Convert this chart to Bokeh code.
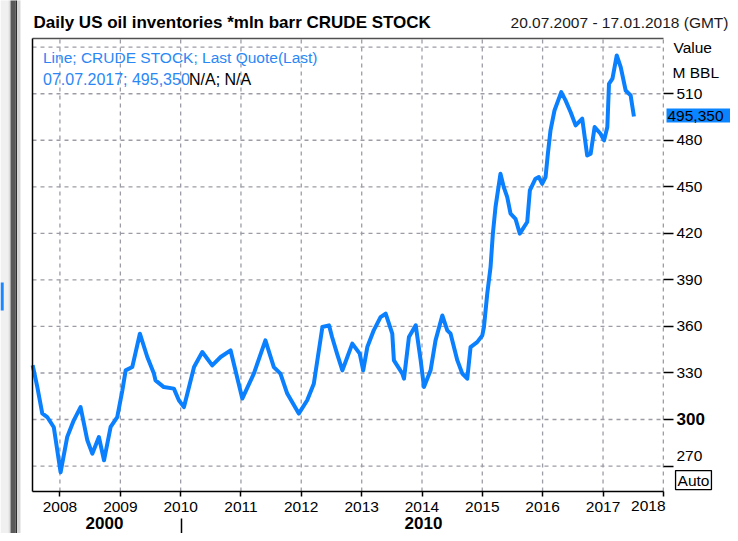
import pandas as pd
from bokeh.plotting import figure
from bokeh.models import (FixedTicker, DatetimeTickFormatter, LinearAxis, Range1d,
                          Label, Arrow, ColumnDataSource)
from bokeh.embed import file_html
from bokeh.resources import INLINE

# ---------------- data ----------------
dates = [
    "2007-07-20", "2007-08-17", "2007-09-16", "2007-10-16", "2007-11-25",
    "2008-01-05", "2008-02-14", "2008-03-25", "2008-05-05", "2008-06-15",
    "2008-07-15", "2008-08-24", "2008-09-24", "2008-11-03", "2008-12-13",
    "2009-01-13", "2009-02-02", "2009-03-14", "2009-04-29", "2009-06-13",
    "2009-07-23", "2009-08-02", "2009-09-21", "2009-11-21", "2009-12-21",
    "2010-01-21", "2010-03-23", "2010-05-12", "2010-07-11", "2010-08-31",
    "2010-10-30", "2011-01-09", "2011-03-20", "2011-05-29", "2011-07-19",
    "2011-08-28", "2011-10-08", "2011-12-17", "2012-02-06", "2012-03-17",
    "2012-05-08", "2012-06-17", "2012-07-06", "2012-08-06", "2012-09-06",
    "2012-10-06", "2012-11-05", "2012-12-20", "2013-01-10", "2013-02-04",
    "2013-03-15", "2013-04-25", "2013-05-26", "2013-07-05", "2013-07-15",
    "2013-09-04", "2013-09-14", "2013-10-14", "2013-11-24", "2013-12-24",
    "2014-01-13", "2014-02-22", "2014-03-24", "2014-05-04", "2014-06-03",
    "2014-06-23", "2014-08-03", "2014-09-02", "2014-10-02", "2014-10-22",
    "2014-12-01", "2015-01-01", "2015-01-11", "2015-01-31", "2015-02-20",
    "2015-03-06", "2015-03-22", "2015-04-21", "2015-05-11", "2015-06-01",
    "2015-06-21", "2015-07-21", "2015-08-16", "2015-09-30", "2015-10-16",
    "2015-11-19", "2015-12-09", "2015-12-30", "2016-01-19", "2016-02-02",
    "2016-02-18", "2016-03-13", "2016-04-23", "2016-05-19", "2016-06-19",
    "2016-07-19", "2016-08-28", "2016-09-27", "2016-10-18", "2016-11-11",
    "2016-12-17", "2017-01-07", "2017-01-27", "2017-02-06", "2017-02-27",
    "2017-03-25", "2017-04-18", "2017-05-18", "2017-06-17", "2017-07-07",
]
values = [
    335.0, 321.0, 304.0, 301.6, 295.0,
    266.0, 288.7, 299.5, 308.0, 286.6,
    278.0, 288.7, 273.7, 295.2, 301.6,
    318.8, 331.7, 333.8, 355.3, 340.3,
    329.6, 325.2, 320.9, 319.9, 312.4,
    308.0, 333.8, 343.5, 334.9, 340.3,
    344.6, 313.5, 329.6, 351.0, 333.8,
    329.6, 316.7, 303.8, 312.4, 323.1,
    359.6, 360.7, 353.0, 342.0, 331.7,
    340.3, 348.9, 342.5, 331.7, 346.7,
    357.5, 366.0, 368.2, 355.3, 338.1,
    329.6, 326.3, 353.2, 360.7, 338.1,
    320.9, 331.7, 351.0, 367.1, 357.5,
    355.3, 338.1, 329.6, 326.3, 346.7,
    349.9, 354.2, 359.6, 381.1, 398.3,
    419.8, 436.9, 458.4, 449.8, 443.4,
    432.7, 429.4, 419.8, 427.3, 447.7,
    455.2, 456.3, 452.0, 456.3, 471.3,
    486.4, 499.2, 511.0, 505.7, 498.1,
    489.6, 493.9, 470.2, 471.3, 488.5,
    484.2, 479.9, 488.5, 516.4, 519.7,
    534.7, 527.1, 512.1, 508.9, 495.35,
]
year_ticks = list(range(2008, 2019))
value_ticks = [270, 300, 330, 360, 390, 420, 450, 480, 510]
grid_values = value_ticks + [540]
title_text = "Daily US oil inventories *mln barr CRUDE STOCK"
range_text = "20.07.2007 - 17.01.2018 (GMT)"
legend_line1 = "Line; CRUDE STOCK; Last Quote(Last)"
legend_line2 = "07.07.2017; 495,350"
legend_na = "N/A; N/A"
last_value_text = "495,350"
axis_unit_1 = "Value"
axis_unit_2 = "M BBL"
decade_labels = ["2000", "2010"]

# ---------------- layout constants (pixels) ----------------
FONT = "Liberation Sans"
BLUE = "#0a80ff"
W, H = 730, 533
FL, FR, FT, FB = 32, 663, 38, 491       # plotting area inside the canvas


def ms(s):
    return pd.Timestamp(s).value / 1e6


xs, xe = ms("2007-07-19"), ms("2018-01-02")   # visible dates of the chart area
ys, ye = 253.6, 545.6                          # visible values of the chart area
kx = (xe - xs) / (FR - FL)
ky = (ye - ys) / (FB - FT)

year_ms = [ms(f"{y}-01-01") for y in year_ticks]
src = ColumnDataSource(dict(x=pd.to_datetime(dates), y=values))

p = figure(width=W, height=H, x_axis_type="datetime", y_axis_location="right",
           x_range=Range1d(xs - FL * kx, xe + (W - FR) * kx),
           y_range=Range1d(ys - (H - FB) * ky, ye + FT * ky),
           output_backend="svg", toolbar_location=None,
           min_border=0, min_border_left=0, min_border_right=0,
           min_border_top=0, min_border_bottom=0)
p.title.visible = False
p.outline_line_color = None
p.background_fill_color = "white"
p.border_fill_color = "white"
p.xgrid.visible = False
p.ygrid.visible = False

# dashed grid, limited to the chart area
p.segment(x0=year_ms, y0=[ys] * len(year_ms), x1=year_ms, y1=[ye] * len(year_ms),
          line_color="#9c9ca6", line_dash="4 4", line_width=1.3)
p.segment(x0=[xs] * len(grid_values), y0=grid_values, x1=[xe] * len(grid_values),
          y1=grid_values, line_color="#9c9ca6", line_dash="4 4", line_width=1.3)

# bottom axis
xa = p.xaxis[0]
xa.fixed_location = ys
xa.bounds = (xs, xe)
xa.ticker = FixedTicker(ticks=year_ms)
xa.formatter = DatetimeTickFormatter(years="%Y", months="%Y", days="%Y")
xa.major_label_overrides = {year_ms[-1]: ""}
xa.major_label_text_font = FONT
xa.major_label_text_font_size = "15.5px"
xa.major_label_text_color = "black"
xa.major_tick_out = 5
xa.major_tick_in = 0
xa.major_tick_line_color = "black"
xa.major_tick_line_width = 1.5
xa.minor_tick_line_color = None
xa.axis_line_color = "black"
xa.axis_line_width = 1.5
xa.major_label_standoff = 5

# right axis
ya = p.yaxis[0]
ya.fixed_location = xe
ya.ticker = FixedTicker(ticks=value_ticks)
ya.major_label_overrides = {270: "", 300: ""}
ya.major_label_text_font = FONT
ya.major_label_text_font_size = "15.5px"
ya.major_label_text_color = "black"
ya.major_tick_out = 10
ya.major_tick_in = 0
ya.major_tick_line_color = "black"
ya.major_tick_line_width = 1.3
ya.minor_tick_line_color = None
ya.axis_line_color = None
ya.major_label_standoff = 3

# frame lines left / top
left_ax = LinearAxis(ticker=FixedTicker(ticks=[]), axis_line_color="black",
                     axis_line_width=1.5, major_label_text_font_size="0px",
                     major_tick_line_color=None, minor_tick_line_color=None,
                     fixed_location=xs, bounds=(ys, ye))
p.add_layout(left_ax, "left")
top_ax = LinearAxis(ticker=FixedTicker(ticks=[]), axis_line_color="#505050",
                    axis_line_width=1.5, major_label_text_font_size="0px",
                    major_tick_line_color=None, minor_tick_line_color=None,
                    fixed_location=ye, bounds=(xs, xe))
p.add_layout(top_ax, "above")

p.line("x", "y", source=src, line_color=BLUE, line_width=4, line_join="round")


def lab(text, x, y, size="15.5px", color="black", style="normal", align="left", **kw):
    l = Label(text=text, x=x, y=H - y, x_units="screen", y_units="screen",
              text_font=FONT, text_font_size=size, text_color=color,
              text_font_style=style, text_align=align, text_baseline="middle", **kw)
    p.add_layout(l)
    return l


def vline(x, y0, y1, color, width):
    p.add_layout(Arrow(end=None, x_start=x, y_start=H - y0, x_end=x, y_end=H - y1,
                       start_units="screen", end_units="screen",
                       line_color=color, line_width=width))


# window edge on the left
vline(4, -5, H + 5, "#f0f0f0", 8)
vline(1.6, 282, 310, "#1a86ff", 3.2)
vline(9, -5, H + 5, "#dcdcdc", 2)
vline(12.5, -5, H + 5, "#5a5a5a", 5)
vline(15.8, -5, H + 5, "#303030", 1.6)
vline(18.3, -5, H + 5, "#d6d6d6", 3.3)

lab(title_text, 33, 22, size="17px", style="bold")
lab(range_text, 728, 22, color="#1a1a1a", align="right")
lab(legend_line1, 42.5, 56.5, color="#2a88f6")
lab(legend_line2, 42.5, 79, size="16px", color="#2a88f6")
lab(legend_na, 188.5, 79, size="16px", color="black")
lab(axis_unit_1, 673, 47)
lab(axis_unit_2, 672, 71.5)
lab("270", 676, 455)
lab("300", 676, 418.5, size="17px", style="bold")
lab(str(year_ticks[-1]), 665, 505, align="right")
lab(last_value_text, 666, 115, background_fill_color="#0a84ff",
    padding=dict(left=1, right=14, top=2, bottom=2))
lab("Auto", 693, 479.6, align="center", background_fill_color="white",
    border_line_color="black", border_line_width=1.3,
    padding=dict(left=2, right=2, top=1, bottom=1))
lab(decade_labels[0], 104, 522.5, size="17px", style="bold", align="center")
lab(decade_labels[1], 423, 522.5, size="17px", style="bold", align="center")
vline(181, 518, H + 5, "black", 1.5)

open("out.html", "w").write(file_html(p, INLINE))
